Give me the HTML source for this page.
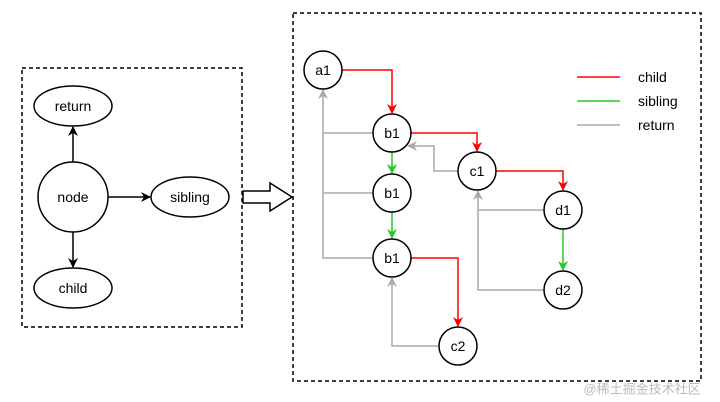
<!DOCTYPE html>
<html><head><style>body{margin:0;background:#fff}svg{display:block}text{font-family:"Liberation Sans",sans-serif;font-size:14px;text-anchor:middle;dominant-baseline:central}</style></head>
<body>
<svg width="720" height="402" viewBox="0 0 720 402" xmlns="http://www.w3.org/2000/svg">
<defs>
<marker id="k" markerWidth="10" markerHeight="10" refX="9" refY="5" orient="auto" markerUnits="userSpaceOnUse"><path d="M0,0 L10,5 L0,10 L3,5z" fill="#000"/></marker>
<marker id="r" markerWidth="10" markerHeight="10" refX="9" refY="5" orient="auto" markerUnits="userSpaceOnUse"><path d="M0,0 L10,5 L0,10 L3,5z" fill="#f00"/></marker>
<marker id="g" markerWidth="10" markerHeight="10" refX="9" refY="5" orient="auto" markerUnits="userSpaceOnUse"><path d="M0,0 L10,5 L0,10 L3,5z" fill="#2c2"/></marker>
<marker id="y" markerWidth="10" markerHeight="10" refX="9" refY="5" orient="auto" markerUnits="userSpaceOnUse"><path d="M0,0 L10,5 L0,10 L3,5z" fill="#aaa"/></marker>
</defs>
<g fill="none" stroke="#000" stroke-width="1.5" stroke-dasharray="4,3">
<rect x="22" y="68" width="220" height="259"/>
<rect x="293" y="13" width="408" height="368"/>
</g>
<path d="M243,191 H270 V183 L292,197 L270,211 V203 H243z" fill="#fff" stroke="#000" stroke-width="1.5"/>
<g stroke="#000" stroke-width="1.5" fill="none">
<line x1="73" y1="162" x2="73" y2="127" marker-end="url(#k)"/>
<line x1="73" y1="232" x2="73" y2="267" marker-end="url(#k)"/>
<line x1="108" y1="197" x2="150" y2="197" marker-end="url(#k)"/>
</g>
<g fill="#fff" stroke="#000" stroke-width="1.5">
<ellipse cx="73" cy="106" rx="39" ry="20"/>
<circle cx="73" cy="197" r="35"/>
<ellipse cx="190" cy="197" rx="39" ry="20"/>
<ellipse cx="73" cy="288" rx="39" ry="20"/>
</g>
<text x="73" y="106">return</text><text x="73" y="197">node</text><text x="190" y="197">sibling</text><text x="73" y="288">child</text>
<g fill="none" stroke-width="1.5">
<g stroke="#aaa">
<path d="M373,133 H323"/><path d="M373,193 H323"/><path d="M373,258 H323 V90" marker-end="url(#y)"/>
<path d="M458,171 H434 V146 H408" marker-end="url(#y)"/>
<path d="M544,210 H478"/><path d="M544,290 H478 V191" marker-end="url(#y)"/>
<path d="M439,346 H392 V278" marker-end="url(#y)"/>
<line x1="577" y1="125" x2="620" y2="125"/>
</g>
<g stroke="#f00">
<path d="M342,70 H392 V113" marker-end="url(#r)"/>
<path d="M411,133 H477 V151" marker-end="url(#r)"/>
<path d="M496,171 H563 V190" marker-end="url(#r)"/>
<path d="M411,258 H458 V326" marker-end="url(#r)"/>
<line x1="577" y1="77" x2="620" y2="77"/>
</g>
<g stroke="#2c2">
<path d="M392,152 V173" marker-end="url(#g)"/>
<path d="M392,212 V238" marker-end="url(#g)"/>
<path d="M563,229 V270" marker-end="url(#g)"/>
<line x1="577" y1="101" x2="620" y2="101"/>
</g>
</g>
<g fill="#fff" stroke="#000" stroke-width="1.5">
<circle cx="323" cy="70" r="19"/><circle cx="392" cy="133" r="19"/><circle cx="392" cy="193" r="19"/><circle cx="392" cy="258" r="19"/>
<circle cx="477" cy="171" r="19"/><circle cx="563" cy="210" r="19"/><circle cx="563" cy="290" r="19"/><circle cx="458" cy="346" r="19"/>
</g>
<text x="323" y="70">a1</text><text x="392" y="133">b1</text><text x="392" y="193">b1</text><text x="392" y="258">b1</text>
<text x="477" y="171">c1</text><text x="563" y="210">d1</text><text x="563" y="290">d2</text><text x="458" y="346">c2</text>
<text x="638" y="77" style="text-anchor:start">child</text><text x="638" y="101" style="text-anchor:start">sibling</text><text x="638" y="125" style="text-anchor:start">return</text>
<text x="642" y="389" style="font-family:'Liberation Sans','Noto Sans CJK SC',sans-serif;font-size:13px;fill:#bbb">@稀土掘金技术社区</text>
</svg>
</body></html>
